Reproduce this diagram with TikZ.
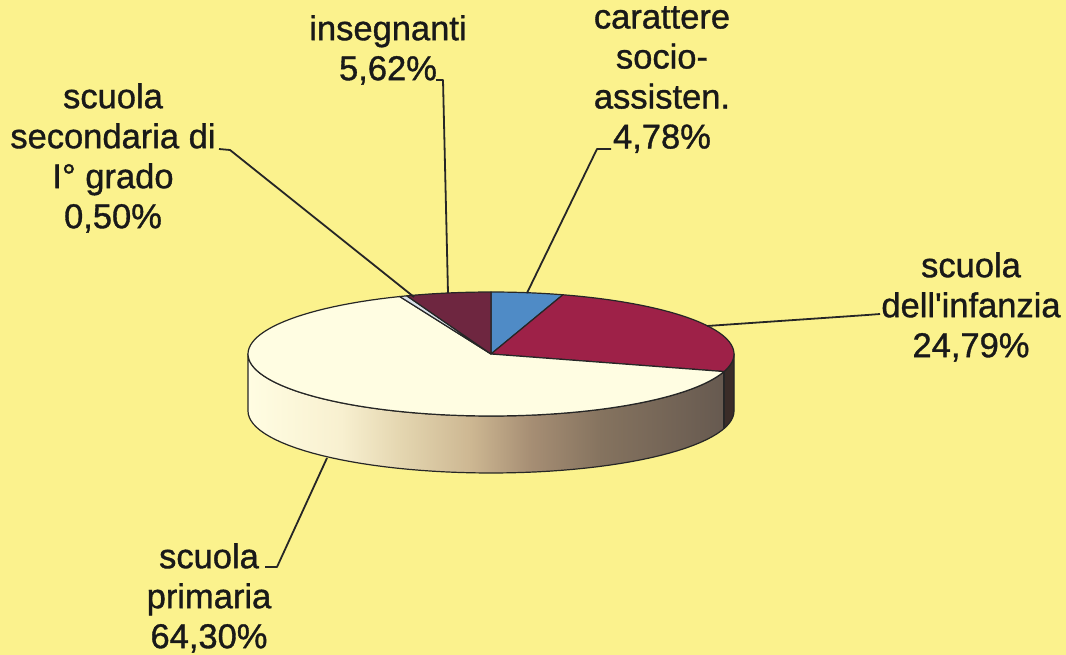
\documentclass[tikz,border=0pt]{standalone}
\usepackage{fontspec}
\setmainfont{Liberation Sans}[BoldFont=Liberation Sans, BoldFeatures={FakeBold=1}]
\definecolor{bgyellow}{HTML}{FBF28D}
\definecolor{pblue}{HTML}{4F8BC6}
\definecolor{pcrimson}{HTML}{9E2148}
\definecolor{pmaroon}{HTML}{6E2640}
\definecolor{pcream}{HTML}{FFFDE2}
\definecolor{plight}{HTML}{D8E0E8}
\definecolor{sidedark}{HTML}{3A2C28}
\definecolor{sideA}{HTML}{F8F0D0}
\definecolor{sideB}{HTML}{E4D6B0}
\definecolor{sideC}{HTML}{CDB792}
\definecolor{sideD}{HTML}{A68E74}
\definecolor{sideE}{HTML}{85735F}
\definecolor{sideF}{HTML}{675A50}
\pgfdeclarehorizontalshading{pieside}{100bp}{color(0bp)=(pcream); color(25bp)=(pcream); color(34.6bp)=(sideA); color(40.7bp)=(sideB); color(47.9bp)=(sideC); color(54.1bp)=(sideD); color(61.3bp)=(sideE); color(73.7bp)=(sideF); color(100bp)=(sideF)}
\tikzstyle{slicelabel} = [align=center, inner sep=0pt, anchor=north, text=black!90, font=\fontsize{34.5}{40}\selectfont\bfseries]
\tikzstyle{leader} = [line width=1.8pt, draw=black!85, line join=round]
\tikzstyle{slice} = [draw=black!85, line width=1.2pt, line join=round]

\begin{document}
\begin{tikzpicture}[x=1pt, y=-1pt]
\fill[bgyellow] (0,0) rectangle (1066,655);
\useasboundingbox (0,0) rectangle (1066,655);
\coordinate (c) at (491,354);
\shade[shading=pieside] plot[domain=180:360, samples=60] ({491+243*cos(\x)},{354-62*sin(\x)}) -- plot[domain=360:180, samples=60] ({491+243*cos(\x)},{411-62*sin(\x)}) -- cycle;
\fill[sidedark] plot[domain=343.55:360, samples=10] ({491+243*cos(\x)},{354-62*sin(\x)}) -- plot[domain=360:343.55, samples=10] ({491+243*cos(\x)},{411-62*sin(\x)}) -- cycle;
\draw[slice] plot[domain=180:360, samples=60] ({491+243*cos(\x)},{354-62*sin(\x)}) -- plot[domain=360:180, samples=60] ({491+243*cos(\x)},{411-62*sin(\x)}) -- cycle;
\draw[slice] ({491+243*cos(343.55)},{354-62*sin(343.55)}) -- ({491+243*cos(343.55)},{411-62*sin(343.55)});
\filldraw[slice, fill=pblue] (c) -- plot[domain=72.79:90, samples=10] ({491+243*cos(\x)},{354-62*sin(\x)}) -- cycle;
\filldraw[slice, fill=pcrimson] (c) -- plot[domain=-16.45:72.79, samples=40] ({491+243*cos(\x)},{354-62*sin(\x)}) -- cycle;
\filldraw[slice, fill=pcream] (c) -- plot[domain=112.07:343.55, samples=90] ({491+243*cos(\x)},{354-62*sin(\x)}) -- cycle;
\filldraw[slice, fill=plight] (c) -- plot[domain=110.27:112.07, samples=4] ({491+243*cos(\x)},{354-62*sin(\x)}) -- cycle;
\filldraw[slice, fill=pmaroon] (c) -- plot[domain=90:110.27, samples=10] ({491+243*cos(\x)},{354-62*sin(\x)}) -- cycle;
\node[slicelabel] (ins) at (388,15) {insegnanti\\5,62\%};
\node[slicelabel] (car) at (662,6) {carattere\\socio-\\assisten.\\4,78\%};
\node[slicelabel] (sec) at (113,83) {scuola\\secondaria di\\I° grado\\0,50\%};
\node[slicelabel] (inf) at (971,252) {scuola\\dell\textquotesingle infanzia\\24,79\%};
\node[slicelabel] (pri) at (209,543) {scuola\\primaria\\64,30\%};
\coordinate (insPie) at (448,293);
\coordinate (insBend) at (443,80);
\coordinate (insTail) at (436,80);
\coordinate (carPie) at (527,293);
\coordinate (carBend) at (597,149);
\coordinate (carTail) at (611,149);
\coordinate (secPie) at (414,297);
\coordinate (secBend) at (230,150);
\coordinate (secTail) at (219,149);
\coordinate (infPie) at (707,326);
\coordinate (infBend) at (867,315);
\coordinate (infTail) at (880,314);
\coordinate (priPie) at (327,458);
\coordinate (priBend) at (277,567);
\coordinate (priTail) at (265,567);
\draw[leader] (insPie) -- (insBend) -- (insTail);
\draw[leader] (carPie) -- (carBend) -- (carTail);
\draw[leader] (secPie) -- (secBend) -- (secTail);
\draw[leader] (infPie) -- (infBend) -- (infTail);
\draw[leader] (priPie) -- (priBend) -- (priTail);
\end{tikzpicture}
\end{document}
